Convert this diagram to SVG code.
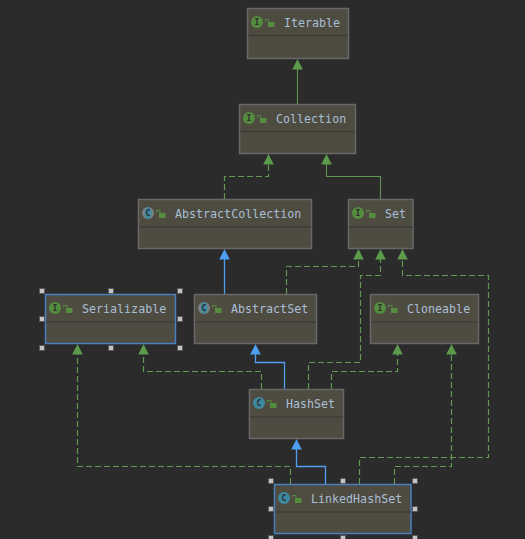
<svg xmlns="http://www.w3.org/2000/svg" width="525" height="539" viewBox="0 0 525 539">
<style>
.box{fill:#4e4b40;stroke:#686868;stroke-width:1.5}
.sel{fill:#4e4b40;stroke:#4a80c0;stroke-width:1.5}
.div{stroke:#3e3d38;stroke-width:1.5}
.t{font:11.67px "DejaVu Sans Mono",monospace;fill:#a9bfd6}
.ic{font:bold 8px "DejaVu Sans Mono",monospace;text-anchor:middle;fill:#2b2b2b}
.g{fill:none;stroke:#5f964f;stroke-width:1.1}
.d{fill:none;stroke:#619a50;stroke-width:1.2;stroke-dasharray:6 3}
.b{fill:none;stroke:#4f9ef0;stroke-width:1.3}
.hg{fill:#5c9a4c}
.hb{fill:#4f9ef0}
.h{fill:#c4c4c4;stroke:#5a5a5a;stroke-width:1}
.i{fill:#548c40}
.c{fill:#3e88a0}
.lock{fill:#548c40}
</style>
<defs>
<g id="lk"><rect class="lock" x="-2" y="-1" width="6.500" height="5"/><path d="M-4.500 -1.500V-3.500H-1V-1" fill="none" stroke="#548c40" stroke-width="1"/></g>
<g id="I"><circle class="i" r="6"/><text class="ic" y="3">I</text></g>
<g id="C"><circle class="c" r="6"/><text class="ic" y="3">C</text></g>
<g id="A"><circle r="6" fill="#7c8284"/><ellipse class="c" rx="3.500" ry="6"/><text class="ic" y="3">C</text></g>
<polygon id="ah" points="0,0 5.300,10.500 -5.300,10.500"/>
</defs>
<rect width="525" height="539" fill="#2b2b2b"/>
<g id="connectors">
<path class="g" d="M297.500 69V104"/>
<path class="d" d="M224.500 199V176.500H268.500V164"/>
<path class="g" d="M380.500 199V176.500H326.500V164"/>
<path class="b" d="M224.500 294V259"/>
<path class="d" d="M286.500 294V266.500H358.500V259"/>
<path class="d" d="M308.500 389V362.500H360.500V275.500H380.500V259"/>
<path class="d" d="M359.500 484V457.500H488.500V275.500H402.500V259"/>
<path class="d" d="M394.500 484V466.500H451.500V354"/>
<path class="d" d="M331.500 389V371.500H397.500V354"/>
<path class="d" d="M261.500 389V371.500H143.500V354"/>
<path class="d" d="M290.500 484V466.500H77.500V354"/>
<path class="b" d="M325.500 484V466.500H296.500V449"/>
<path class="b" d="M284.500 389V362.500H255.500V354"/>
<use href="#ah" class="hg" x="297.500" y="59"/>
<use href="#ah" class="hg" x="268.500" y="154"/>
<use href="#ah" class="hg" x="326.500" y="154"/>
<use href="#ah" class="hb" x="224.500" y="249"/>
<use href="#ah" class="hg" x="358.500" y="249"/>
<use href="#ah" class="hg" x="380.500" y="249"/>
<use href="#ah" class="hg" x="402.500" y="249"/>
<use href="#ah" class="hg" x="77.500" y="344"/>
<use href="#ah" class="hg" x="143.500" y="344"/>
<use href="#ah" class="hb" x="255.500" y="344"/>
<use href="#ah" class="hg" x="397.500" y="344"/>
<use href="#ah" class="hg" x="451.500" y="344"/>
<use href="#ah" class="hb" x="296.500" y="439"/>
</g>
<g id="Iterable"><rect class="box" x="247.500" y="8.500" width="101" height="50"/><path class="div" d="M248 35.500H348"/><use href="#I" x="257" y="22"/><use href="#lk" x="270" y="23"/><text class="t" x="284" y="27">Iterable</text></g>
<g id="Collection"><rect class="box" x="239.500" y="104.500" width="116" height="49"/><path class="div" d="M240 131.500H355"/><use href="#I" x="249" y="118"/><use href="#lk" x="262" y="119"/><text class="t" x="276" y="123">Collection</text></g>
<g id="AbstractCollection"><rect class="box" x="138.500" y="199.500" width="173" height="49"/><path class="div" d="M139 227H311"/><use href="#A" x="148" y="213"/><use href="#lk" x="161" y="214"/><text class="t" x="175" y="218">AbstractCollection</text></g>
<g id="Set"><rect class="box" x="348.500" y="199.500" width="64.500" height="49"/><path class="div" d="M349 227H413"/><use href="#I" x="358" y="213"/><use href="#lk" x="371" y="214"/><text class="t" x="385" y="218">Set</text></g>
<g id="Serializable"><rect class="sel" x="45.500" y="294.500" width="130" height="49"/><path class="div" d="M46 322H175"/><use href="#I" x="55" y="308"/><use href="#lk" x="68" y="309"/><text class="t" x="82" y="313">Serializable</text>
<rect class="h" x="39.500" y="288.500" width="5" height="5"/><rect class="h" x="108.500" y="288.500" width="5" height="5"/><rect class="h" x="177.500" y="288.500" width="5" height="5"/><rect class="h" x="39.500" y="316.500" width="5" height="5"/><rect class="h" x="177.500" y="316.500" width="5" height="5"/><rect class="h" x="39.500" y="345.500" width="5" height="5"/><rect class="h" x="108.500" y="345.500" width="5" height="5"/><rect class="h" x="177.500" y="345.500" width="5" height="5"/></g>
<g id="AbstractSet"><rect class="box" x="194.500" y="294.500" width="122" height="49"/><path class="div" d="M195 322H316"/><use href="#A" x="204" y="308"/><use href="#lk" x="217" y="309"/><text class="t" x="231" y="313">AbstractSet</text></g>
<g id="Cloneable"><rect class="box" x="370.500" y="294.500" width="108" height="49"/><path class="div" d="M371 322H478"/><use href="#I" x="380" y="308"/><use href="#lk" x="393" y="309"/><text class="t" x="407" y="313">Cloneable</text></g>
<g id="HashSet"><rect class="box" x="249.500" y="389.500" width="94" height="49"/><path class="div" d="M250 417H343"/><use href="#C" x="259" y="403"/><use href="#lk" x="272" y="404"/><text class="t" x="286" y="408">HashSet</text></g>
<g id="LinkedHashSet"><rect class="sel" x="274.500" y="484.500" width="136.500" height="49"/><path class="div" d="M275 512H411"/><use href="#C" x="284" y="498"/><use href="#lk" x="297" y="499"/><text class="t" x="311" y="503">LinkedHashSet</text>
<rect class="h" x="268.500" y="478.500" width="5" height="5"/><rect class="h" x="340.500" y="478.500" width="5" height="5"/><rect class="h" x="412.500" y="478.500" width="5" height="5"/><rect class="h" x="268.500" y="506.500" width="5" height="5"/><rect class="h" x="412.500" y="506.500" width="5" height="5"/><rect class="h" x="268.500" y="535.500" width="5" height="5"/><rect class="h" x="340.500" y="535.500" width="5" height="5"/><rect class="h" x="412.500" y="535.500" width="5" height="5"/></g>
</svg>
